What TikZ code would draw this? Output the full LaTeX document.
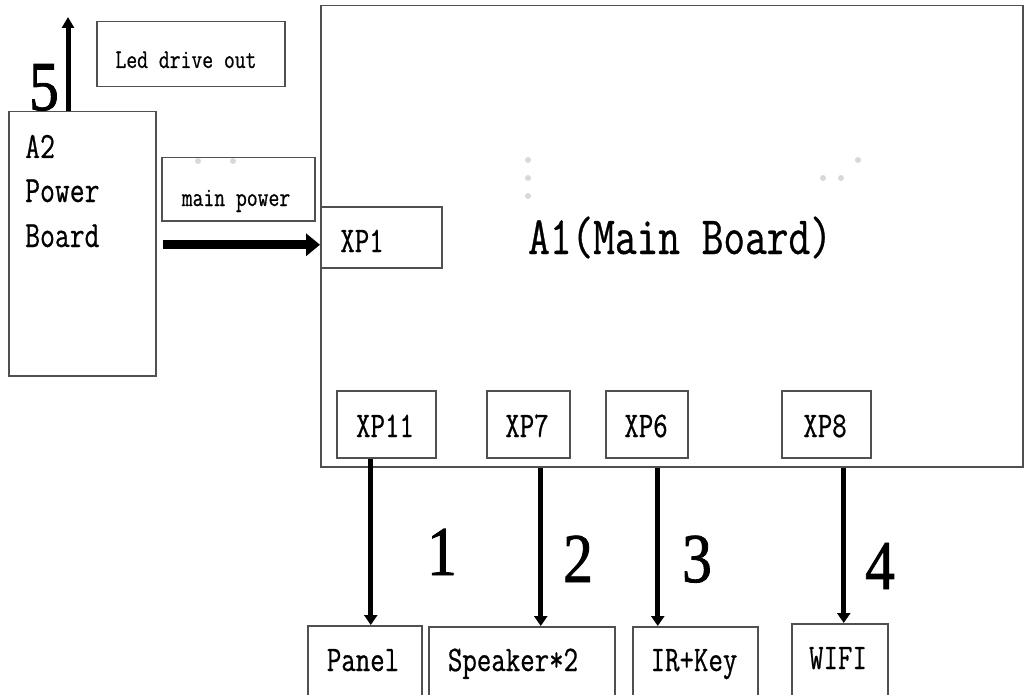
\documentclass[tikz,border=0pt]{standalone}
\usepackage{fontspec}
\setmainfont{Latin Modern Mono}[FakeStretch=0.78, FakeBold=0.6]
\newfontfamily\numfont{Liberation Serif}[FakeStretch=0.85, FakeBold=1.2]
\usetikzlibrary{arrows.meta}
\definecolor{boxc}{HTML}{505050}
\definecolor{dotc}{HTML}{D8D8D8}
\tikzset{
  box/.style={draw=boxc, line width=1.5pt, inner sep=0pt, anchor=north west},
  conn/.style={line width=5pt, -{Triangle[width=13pt,length=10pt]}},
  bigarrow/.style={line width=9pt, -{Triangle[width=22pt,length=14pt]}},
  lbl/.style={inner sep=0pt, font=\fontsize{36}{40}\selectfont},
  small/.style={inner sep=0pt, font=\fontsize{27}{30}\selectfont},
  num/.style={inner sep=0pt, font=\numfont\fontsize{70}{80}\selectfont},
  dot/.style={fill=dotc, draw=none, circle, minimum size=6pt, inner sep=0pt}
}
\begin{document}
\begin{tikzpicture}[x=1pt,y=-1pt]
\useasboundingbox (0,0) rectangle (1024,695);
\clip (0,0) rectangle (1024,695);
% main board
\node[box, minimum width=702pt, minimum height=461pt] (main) at (320,5) {};
\node[inner sep=0pt, anchor=base, font=\fontsize{54}{60}\selectfont] (a1t) at (680,254) {A1(Main Board)};
% power board
\node[box, minimum width=147pt, minimum height=264pt] (a2) at (8,111) {};
\node[inner sep=0pt, anchor=base west, font=\fontsize{37}{40}\selectfont] (a2t1) at (25,158) {A2};
\node[inner sep=0pt, anchor=base west, font=\fontsize{37}{40}\selectfont] (a2t2) at (25,202) {Power};
\node[inner sep=0pt, anchor=base west, font=\fontsize{37}{40}\selectfont] (a2t3) at (25,247) {Board};
% led drive out
\node[box, minimum width=188pt, minimum height=65pt] (led) at (96,21) {};
\node[small, anchor=base] (ledt) at (186,68) {Led drive out};
% main power
\node[box, minimum width=153pt, minimum height=63pt] (mp) at (161,157) {};
\node[small, anchor=base] (mpt) at (236,206) {main power};
% XP1
\node[box, minimum width=121pt, minimum height=61pt] (xp1) at (320,206) {};
\node[lbl, anchor=base] (xp1t) at (362,252) {XP1};
% connectors on main board
\node[box, minimum width=99pt, minimum height=67pt] (xp11) at (336,390) {};
\node[lbl, anchor=base] (xp11t) at (385,437) {XP11};
\node[box, minimum width=83pt, minimum height=67pt] (xp7) at (486,390) {};
\node[lbl, anchor=base] (xp7t) at (527,437) {XP7};
\node[box, minimum width=82pt, minimum height=67pt] (xp6) at (605,390) {};
\node[lbl, anchor=base] (xp6t) at (646,437) {XP6};
\node[box, minimum width=89pt, minimum height=67pt] (xp8) at (781,390) {};
\node[lbl, anchor=base] (xp8t) at (825,437) {XP8};
% bottom boxes
\node[box, minimum width=114pt, minimum height=80pt] (panel) at (307,625) {};
\node[lbl, anchor=base] (panelt) at (363,671) {Panel};
\node[box, minimum width=186pt, minimum height=80pt] (spk) at (428,626) {};
\node[lbl, anchor=base] (spkt) at (513,671) {Speaker*2};
\node[box, minimum width=125pt, minimum height=80pt] (ir) at (632,626) {};
\node[lbl, anchor=base] (irt) at (694,671) {IR+Key};
\node[box, minimum width=96pt, minimum height=80pt] (wifi) at (791,623) {};
\node[lbl, anchor=base] (wifit) at (838,669) {WIFI};
% numbers
\node[num, anchor=base] (n1) at (442,575) {1};
\node[num, anchor=base] (n2) at (578,582) {2};
\node[num, anchor=base] (n3) at (697,582) {3};
\node[num, anchor=base] (n4) at (880,589) {4};
\node[num, anchor=base] (n5) at (44,110) {5};
% arrows
\path ([xshift=-15.5pt]xp11.south) coordinate (c1)
      ([xshift=12.5pt]xp7.south) coordinate (c2)
      ([xshift=11pt]xp6.south) coordinate (c3)
      ([xshift=17.5pt]xp8.south) coordinate (c4);
\draw[conn] (c1) -- (c1 |- panel.north);
\draw[conn] (c2 |- main.south) -- (c2 |- spk.north);
\draw[conn] (c3 |- main.south) -- (c3 |- ir.north);
\draw[conn] (c4 |- main.south) -- (c4 |- wifi.north);
\path ([yshift=-7.5pt]xp1.west) coordinate (pin);
\draw[bigarrow] ([xshift=6pt]a2.east |- pin) -- (pin);
\coordinate (top5) at (68,17);
\draw[line width=5pt, -{Triangle[width=12pt,length=11pt]}] (a2.north -| top5) -- (top5);
% faint dots
\foreach \i/\x/\y in {d1/198/161, d2/233/161, d3/528/160, d4/528/178, d5/528/196, d6/823/178, d7/841/178, d8/858/160}
  \node[dot] (\i) at (\x,\y) {};
\end{tikzpicture}
\end{document}
